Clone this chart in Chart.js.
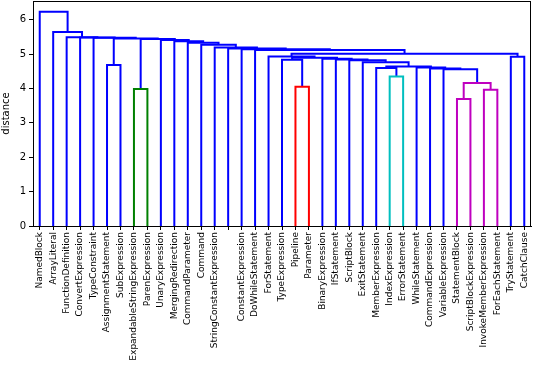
<!DOCTYPE html>
<html>
<head>
<meta charset="utf-8">
<script src="https://cdn.jsdelivr.net/npm/chart.js@4.4.1/dist/chart.umd.min.js"></script>
<style>
	html, body { margin: 0; padding: 0; background: #fff; }
	#wrap { width: 534px; height: 376px; }
</style>
</head>
<body>
<div id="wrap"><canvas id="chart-dendrogram" width="534" height="376"></canvas></div>
<script>
// Leaf labels, in the order they sit along the x axis
const LEAVES = [
	"NamedBlock", "ArrayLiteral", "FunctionDefinition", "ConvertExpression", "TypeConstraint",
	"AssignmentStatement", "SubExpression", "ExpandableStringExpression", "ParenExpression",
	"UnaryExpression", "MergingRedirection", "CommandParameter", "Command",
	"StringConstantExpression", "", "ConstantExpression", "DoWhileStatement", "ForStatement",
	"TypeExpression", "Pipeline", "Parameter", "BinaryExpression", "IfStatement", "ScriptBlock",
	"ExitStatement", "MemberExpression", "IndexExpression", "ErrorStatement", "WhileStatement",
	"CommandExpression", "VariableExpression", "StatementBlock", "ScriptBlockExpression",
	"InvokeMemberExpression", "ForEachStatement", "TryStatement", "CatchClause",
];

// Merges [left node, right node, distance]; leaves are 0..36, merge k is node 37 + k
const MERGES = [
	[31, 32, 3.69], [33, 34, 3.96], [7, 8, 3.98], [19, 20, 4.05], [37, 38, 4.16],
	[26, 27, 4.35], [30, 41, 4.56], [29, 43, 4.58], [25, 42, 4.59], [28, 44, 4.61],
	[45, 46, 4.64], [5, 6, 4.68], [24, 47, 4.76], [23, 49, 4.82], [18, 40, 4.83],
	[22, 50, 4.84], [21, 52, 4.86], [51, 53, 4.89], [35, 36, 4.92], [17, 54, 4.93],
	[56, 55, 5.01], [16, 57, 5.12], [15, 58, 5.14], [14, 59, 5.16], [13, 60, 5.19],
	[12, 61, 5.27], [11, 62, 5.33], [10, 63, 5.37], [9, 64, 5.41], [39, 65, 5.44],
	[48, 66, 5.45], [4, 67, 5.47], [3, 68, 5.48], [2, 69, 5.49], [1, 70, 5.64],
	[0, 71, 6.23],
];

const Y_TICKS = [0, 1, 2, 3, 4, 5, 6];
const Y_TITLE = "distance";

//---------------------------------------------------------
// Tree geometry (data units, like scipy's dendrogram)
//---------------------------------------------------------
const N_LEAVES = LEAVES.length;
const nodeX = LEAVES.map((_, i) => 5 + 10 * i);
const nodeH = LEAVES.map(() => 0);
MERGES.forEach(([a, b, h]) => {
	nodeX.push((nodeX[a] + nodeX[b]) / 2);
	nodeH.push(h);
});

// Colour the clusters below 0.7 * max distance, the rest blue
const PALETTE = ["#008000", "#ff0000", "#00bfbf", "#bf00bf"];
const ABOVE = "#0000ff";
const maxH = Math.max(...MERGES.map((m) => m[2]));
const threshold = 0.7 * maxH;
const linkColor = MERGES.map(() => ABOVE);
let pal = 0;

const paint = (id, c) => {
	if (id < N_LEAVES) return;
	linkColor[id - N_LEAVES] = c;
	paint(MERGES[id - N_LEAVES][0], c);
	paint(MERGES[id - N_LEAVES][1], c);
};
const walk = (id) => {
	if (id < N_LEAVES) return;
	const [a, b, h] = MERGES[id - N_LEAVES];
	if (h < threshold) {
		paint(id, PALETTE[pal++ % PALETTE.length]);
		return;
	}
	walk(a);
	walk(b);
};
walk(N_LEAVES + MERGES.length - 1);

// One U-shaped line per merge
const CHART_DATA = {
	datasets: MERGES.map(([a, b, h], i) => ({
		data: [
			{ x: nodeX[a], y: nodeH[a] },
			{ x: nodeX[a], y: h },
			{ x: nodeX[b], y: h },
			{ x: nodeX[b], y: nodeH[b] },
		],
		borderColor: linkColor[i],
		borderWidth: 2,
		showLine: true,
		pointRadius: 0,
		fill: false,
		tension: 0,
	})),
};

// Box round the plot area
const frame = {
	id: "frame",
	afterDraw(chart) {
		const { ctx, chartArea: a } = chart;
		ctx.save();
		ctx.strokeStyle = "#000";
		ctx.lineWidth = 1;
		ctx.strokeRect(a.left + 0.5, a.top + 0.5, a.right - a.left - 1, a.bottom - a.top);
		ctx.restore();
	},
};

Chart.defaults.font.family = "'DejaVu Sans', sans-serif";
Chart.defaults.color = "#000";

new Chart(document.getElementById("chart-dendrogram"), {
	type: "scatter",
	data: CHART_DATA,
	plugins: [frame],
	options: {
		responsive: false,
		animation: false,
		events: [],
		layout: { padding: { top: 1, right: 3, left: 0, bottom: 0 } },
		plugins: {
			legend: { display: false },
			tooltip: { enabled: false },
		},
		scales: {
			x: {
				type: "linear",
				min: 0,
				max: 10 * N_LEAVES,
				afterBuildTicks: (s) => {
					s.ticks = LEAVES.map((_, i) => ({ value: 5 + 10 * i }));
				},
				afterFit: (s) => {
					s.height = 150;
					s.paddingLeft = 0;
					s.paddingRight = 0;
				},
				border: { display: true, color: "#000", width: 1 },
				grid: { drawOnChartArea: false, drawTicks: true, tickLength: 4, color: "#000" },
				ticks: {
					autoSkip: false,
					minRotation: 90,
					maxRotation: 90,
					padding: 2,
					font: { size: 9 },
					color: "#000",
					callback: (v, i) => LEAVES[i],
				},
			},
			y: {
				min: 0,
				max: maxH * 1.05,
				afterBuildTicks: (s) => {
					s.ticks = Y_TICKS.map((v) => ({ value: v }));
				},
				afterFit: (s) => {
					s.width = 33;
					s.paddingTop = 0;
					s.paddingBottom = 0;
				},
				border: { display: true, color: "#000", width: 1 },
				grid: { drawOnChartArea: false, drawTicks: true, tickLength: 4, color: "#000" },
				ticks: { padding: 3, font: { size: 10 }, color: "#000" },
				title: { display: true, text: Y_TITLE, font: { size: 10 }, color: "#000", padding: 0 },
			},
		},
	},
});
</script>
</body>
</html>
